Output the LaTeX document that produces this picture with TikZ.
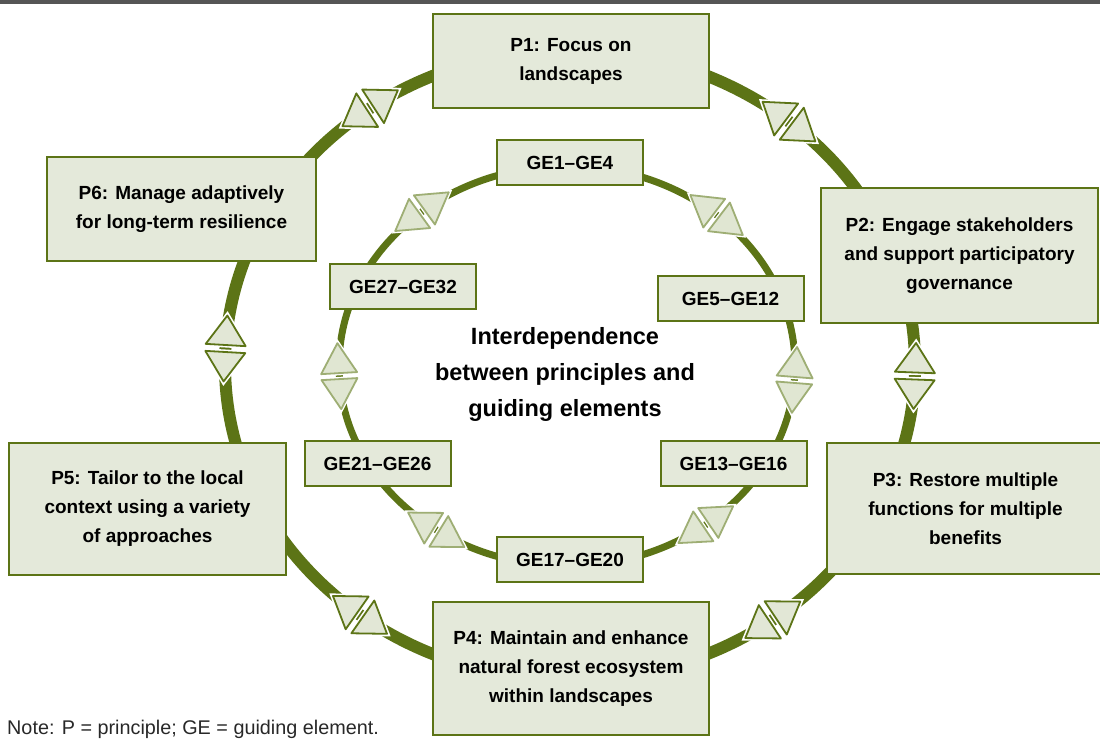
\documentclass[tikz,border=0pt]{standalone}
\usepackage{fontspec}
\setmainfont{Liberation Sans}
\definecolor{ringgreen}{RGB}{92,116,22}
\definecolor{boxfill}{RGB}{228,233,218}
\definecolor{trifill}{RGB}{226,231,214}
\definecolor{paleline}{RGB}{158,174,116}
\definecolor{palefill}{RGB}{224,230,210}
\definecolor{topbar}{RGB}{85,85,85}
\definecolor{notegray}{RGB}{40,40,40}

\begin{document}
\begin{tikzpicture}[x=1pt,y=1pt,
  pbox/.style={draw=ringgreen,fill=boxfill,line width=2.6pt,align=center,inner sep=2pt,
    font=\bfseries\fontsize{19}{29}\selectfont},
  gebox/.style={draw=ringgreen,fill=boxfill,line width=2pt,minimum width=146pt,minimum height=45pt,
    inner sep=0pt,font=\bfseries\fontsize{19}{23}\selectfont},
  outtri/.style={draw=ringgreen,fill=trifill,line width=1.8pt,line join=round,
    preaction={draw=white,line width=5pt}},
  intri/.style={draw=paleline,fill=palefill,line width=1.8pt,line join=round,
    preaction={draw=white,line width=4.5pt}}]
\useasboundingbox (0,0) rectangle (1100,741);
\fill[topbar] (0,737) rectangle (1100,741);
\draw[ringgreen,line width=12pt] (570,376) ellipse [x radius=345,y radius=315];
\draw[ringgreen,line width=7pt] (567,375) ellipse [x radius=228,y radius=200];
\foreach \t in {125.4,50.6,177,-2,-54,232.5}{
  \pgfmathsetmacro\rot{atan2(315*cos(\t),-345*sin(\t))-90}
  \begin{scope}[shift={({570+345*cos(\t)},{376+315*sin(\t)})},rotate=\rot]
    \draw[outtri] (-20,3.5) -- (20,3.5) -- (0,33) -- cycle;
    \draw[outtri] (-20,-3.5) -- (20,-3.5) -- (0,-33) -- cycle;
  \end{scope}
}
\foreach \t in {129.5,49,182.9,-4,235,-52.5}{
  \pgfmathsetmacro\rot{atan2(200*cos(\t),-228*sin(\t))-90}
  \begin{scope}[shift={({567+228*cos(\t)},{375+200*sin(\t)})},rotate=\rot]
    \draw[intri] (-18,3) -- (18,3) -- (0,33) -- cycle;
    \draw[intri] (-18,-3) -- (18,-3) -- (0,-33) -- cycle;
  \end{scope}
}
\node[pbox,minimum width=276pt,minimum height=94pt] (p1) at (571,680) {P1: Focus on\\landscapes};
\node[pbox,minimum width=277pt,minimum height=135pt] (p2) at (959.5,485.5) {P2: Engage stakeholders\\and support participatory\\governance};
\node[pbox,minimum width=277pt,minimum height=131pt] (p3) at (965.5,232.5) {P3: Restore multiple\\functions for multiple\\benefits};
\node[pbox,minimum width=276pt,minimum height=133pt] (p4) at (571,72.5) {P4: Maintain and enhance\\natural forest ecosystem\\within landscapes};
\node[pbox,minimum width=277pt,minimum height=132pt] (p5) at (147.5,232) {P5: Tailor to the local\\context using a variety\\of approaches};
\node[pbox,minimum width=269pt,minimum height=104pt] (p6) at (181.5,532) {P6: Manage adaptively\\for long-term resilience};
\node[gebox] (g1) at (570,578.5) {GE1--GE4};
\node[gebox] (g2) at (730.5,442.5) {GE5--GE12};
\node[gebox] (g3) at (733.5,277.5) {GE13--GE16};
\node[gebox] (g4) at (570,181) {GE17--GE20};
\node[gebox] (g5) at (377.5,277.5) {GE21--GE26};
\node[gebox] (g6) at (403,454) {GE27--GE32};
\node[align=center,font=\bfseries\fontsize{23.5}{36}\selectfont] (mid) at (565,367) {Interdependence\\between principles and\\guiding elements};
\node[anchor=west,inner sep=0pt,text=notegray,font=\fontsize{19.8}{24}\selectfont] (note) at (7,12) {Note: P = principle; GE = guiding element.};
\end{tikzpicture}
\end{document}
